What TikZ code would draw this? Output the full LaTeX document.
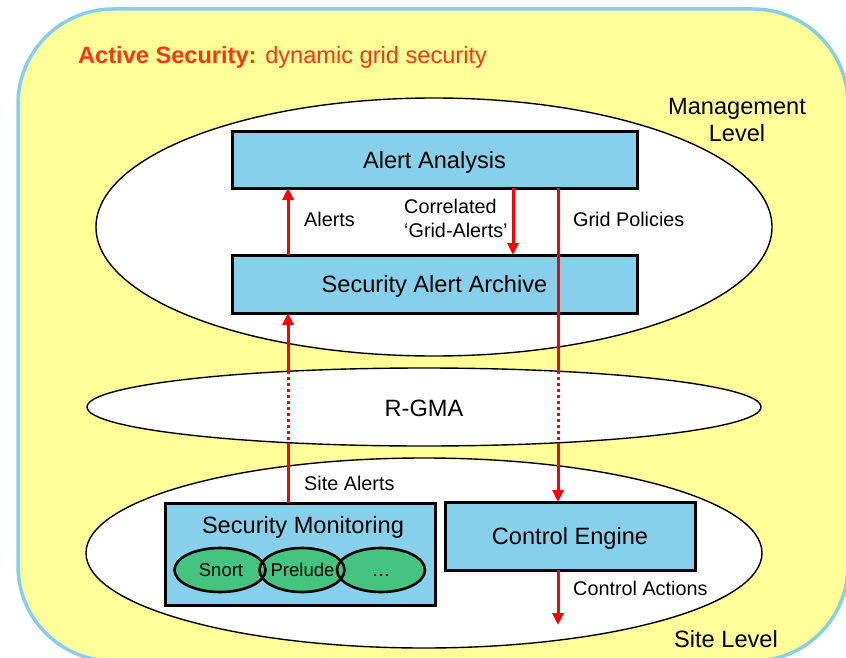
\documentclass[tikz,border=0pt]{standalone}
\usepackage{fontspec}
\setmainfont{Liberation Sans}
\usetikzlibrary{arrows.meta,shapes.geometric}

\definecolor{bgyellow}{RGB}{255,255,153}
\definecolor{frameblue}{RGB}{135,206,235}
\definecolor{boxblue}{RGB}{135,208,235}
\definecolor{toolgreen}{RGB}{68,196,128}
\definecolor{titlered}{RGB}{250,55,20}
\definecolor{flowred}{RGB}{255,0,0}

\tikzset{
  level/.style={ellipse, draw=black, fill=white, line width=1.4pt,
    inner sep=0pt, outer sep=0pt},
  component/.style={rectangle, draw=black, fill=boxblue, line width=3pt,
    inner sep=0pt, outer sep=0pt, font=\fontsize{23.6}{27}\selectfont,
    text height=16.8pt, text depth=0pt},
  tool/.style={ellipse, fill=toolgreen, inner sep=0pt, outer sep=0pt,
    minimum height=44pt},
  toolrim/.style={ellipse, draw=black, line width=2.6pt, inner sep=0pt,
    outer sep=0pt, minimum height=44pt},
  flow/.style={draw=flowred, line width=3pt},
  flowtip/.style={flow, -{Triangle[length=12pt,width=11pt]}},
  relay/.style={flow, dash pattern=on 3pt off 3pt},
  biglabel/.style={inner sep=0pt, font=\fontsize{23.6}{27}\selectfont},
  smalllabel/.style={inner sep=0pt, font=\fontsize{19.8}{24}\selectfont},
}

\begin{document}
\begin{tikzpicture}[x=1pt,y=-1pt]
\useasboundingbox (0,0) rectangle (846,658);

% outer rounded panel
\begin{scope}
  \clip (0,0) rectangle (846,658);
  \draw[frameblue, fill=bgyellow, line width=3.5pt, rounded corners=95pt]
    (18,9) rectangle (848,661);
\end{scope}

\node[anchor=base west, inner sep=0pt, text=titlered,
  font=\fontsize{23.6}{27}\selectfont] (title) at (78,63.3)
  {\textbf{Active Security:} dynamic grid security};

% levels
\node[level, minimum width=676pt, minimum height=258pt] (mgmt) at (434,227) {};
\node[level, minimum width=674pt, minimum height=78pt] (rgma) at (424,407) {};
\node[level, minimum width=676pt, minimum height=190pt] (site) at (424,553) {};

\node[biglabel, anchor=base] (rgmatext) at (424,416.7) {R-GMA};
% multi-line nodes sit on the baseline of their last line
\node[biglabel, align=center, anchor=base] (mgmttext) at (737,141.7)
  {Management\\[0.4pt]Level};
\node[biglabel, anchor=base] (sitetext) at (726,647) {Site Level};

% management components
\node[component, minimum width=405pt, minimum height=56pt] (analysis)
  at (434.5,160) {Alert Analysis};
\node[component, minimum width=405pt, minimum height=58pt] (archive)
  at (434.5,284) {Security Alert Archive};

% site components
\node[component, minimum width=270pt, minimum height=102pt] (monitor)
  at (300,554) {};
\node[biglabel, anchor=base] (monitortext) at (303,533.3) {Security Monitoring};
\node[component, minimum width=250pt, minimum height=68pt] (engine)
  at (570,536) {Control Engine};

% sensors inside the monitoring box
\node[tool, minimum width=91pt] (snortfill) at (220,570) {};
\node[tool, minimum width=85pt] (preludefill) at (302,570) {};
\node[tool, minimum width=88pt] (morefill) at (381,570) {};
\node[toolrim, minimum width=91pt] (snort) at (220,570) {};
\node[toolrim, minimum width=85pt] (prelude) at (302,570) {};
\node[toolrim, minimum width=88pt] (more) at (381,570) {};
\node[anchor=base, inner sep=0pt, font=\fontsize{18.5}{22}\selectfont]
  (snorttext) at (221,576) {Snort};
\node[anchor=base, inner sep=0pt, font=\fontsize{18.5}{22}\selectfont]
  (preludetext) at (302.5,576) {Prelude};
\node[anchor=base, inner sep=0pt, font=\fontsize{18.5}{22}\selectfont]
  (moretext) at (381,576) {\dots};

% flow columns and crossings of the R-GMA layer
\coordinate (colA) at (288,0);
\coordinate (colB) at (513,0);
\coordinate (colC) at (558,0);
\coordinate (aIn)  at (288,371.3);
\coordinate (aOut) at (288,442.7);
\coordinate (cIn)  at (558,371.2);
\coordinate (cOut) at (558,442.8);
\coordinate (actEnd) at (558,625);

% alerts up to analysis
\draw[flowtip] (archive.north -| colA) -- (analysis.south -| colA);
% correlated alerts back to the archive
\draw[flowtip] (analysis.south -| colB) -- (archive.north -| colB);

% site alerts through R-GMA
\draw[flowtip] (aIn) -- (archive.south -| colA);
\draw[relay] (aIn) -- (aOut);
\draw[flow] (monitor.north -| colA) -- (aOut);

% grid policies through R-GMA
\draw[flow] (analysis.south -| colC) -- (cIn);
\draw[relay] (cIn) -- (cOut);
\draw[flowtip] (cOut) -- (engine.north -| colC);

% control actions
\draw[flowtip] (engine.south -| colC) -- (actEnd);

% connector labels
\node[smalllabel, anchor=base west] (alertslbl) at (304,226) {Alerts};
\node[smalllabel, anchor=base west, align=left] (corrlbl) at (404,237.3)
  {Correlated\\‘Grid-Alerts’};
\node[smalllabel, anchor=base west] (policylbl) at (573,226) {Grid Policies};
\node[smalllabel, anchor=base west] (sitelbl) at (304,490) {Site Alerts};
\node[smalllabel, anchor=base west] (actionlbl) at (573,595) {Control Actions};
\end{tikzpicture}
\end{document}
